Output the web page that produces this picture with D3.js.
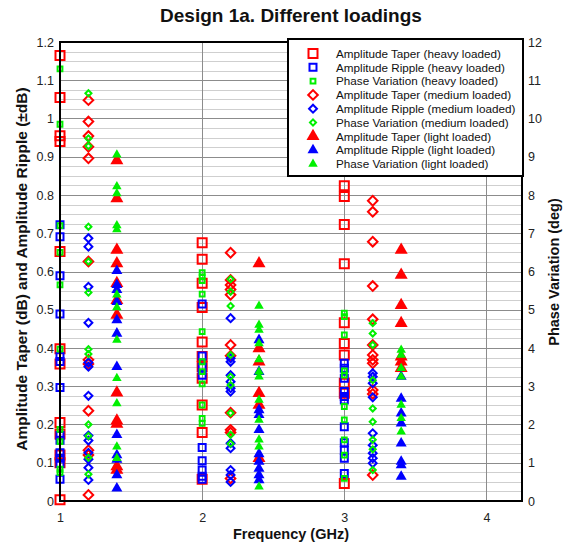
<!DOCTYPE html>
<html>
<head>
<meta charset="utf-8">
<script src="https://cdn.jsdelivr.net/npm/d3@7"></script>
<style>
  html, body { margin: 0; padding: 0; background: #fff; }
  svg { display: block; font-family: "Liberation Sans", Arial, sans-serif; }
</style>
</head>
<body>
<svg id="chart" width="563" height="544"></svg>
<script>
// Measurement frequencies (GHz) for each loading condition
const heavyFreqs  = [1, 2, 3];
const mediumFreqs = [1.2, 2.2, 3.2];
const lightFreqs  = [1.4, 2.4, 3.4];

// Amplitude taper / ripple in dB, phase variation in degrees,
// one inner array per measurement frequency
const taperHeavy = [
  [1.165, 1.055, 0.955, 0.94, 0.652, 0.398, 0.358, 0.205, 0.175, 0.12, 0.10, 0.003],
  [0.675, 0.632, 0.569, 0.506, 0.416, 0.378, 0.351, 0.321, 0.251, 0.179, 0.057],
  [0.824, 0.796, 0.723, 0.62, 0.466, 0.412, 0.382, 0.308, 0.282, 0.046]
];
const rippleHeavy = [
  [0.722, 0.691, 0.589, 0.489, 0.378, 0.365, 0.297, 0.171, 0.159, 0.126, 0.112, 0.098, 0.057],
  [0.515, 0.379, 0.35, 0.329, 0.14, 0.105, 0.081, 0.065, 0.057],
  [0.36, 0.347, 0.321, 0.286, 0.273, 0.264, 0.194, 0.152, 0.133, 0.112, 0.072]
];
const phaseHeavy = [
  [11.3, 9.85, 7.2, 6.5, 5.65, 3.97, 1.87, 1.55, 0.83, 0.74],
  [5.97, 5.86, 5.76, 5.41, 4.43, 3.64, 3.38, 3.06, 2.51, 2.16, 2.03],
  [4.91, 4.82, 4.34, 3.4, 3.29, 2.47, 2.12, 1.6, 1.2, 0.59]
];
const taperMedium = [
  [1.048, 0.992, 0.954, 0.926, 0.896, 0.626, 0.369, 0.358, 0.236, 0.133, 0.12, 0.016],
  [0.649, 0.578, 0.565, 0.553, 0.539, 0.408, 0.38, 0.231, 0.186, 0.179, 0.059],
  [0.785, 0.756, 0.678, 0.562, 0.475, 0.408, 0.382, 0.369, 0.36, 0.29, 0.28, 0.068]
];
const rippleMedium = [
  [0.687, 0.665, 0.56, 0.466, 0.362, 0.351, 0.275, 0.171, 0.158, 0.126, 0.109, 0.087, 0.055],
  [0.478, 0.373, 0.364, 0.329, 0.312, 0.295, 0.286, 0.151, 0.138, 0.081, 0.068, 0.05],
  [0.334, 0.325, 0.308, 0.271, 0.177, 0.146, 0.125, 0.112, 0.099]
];
const phaseMedium = [
  [10.66, 9.48, 9.28, 7.17, 6.26, 5.45, 3.97, 3.84, 2.0, 1.7, 1.13, 0.70],
  [5.8, 5.47, 5.1, 3.82, 3.25, 3.03, 2.3, 1.73, 1.5],
  [4.65, 4.38, 4.08, 3.16, 2.42, 2.07, 1.6, 1.35, 0.81]
];
const taperLight = [
  [0.89, 0.791, 0.656, 0.621, 0.569, 0.525, 0.486, 0.283, 0.21, 0.201, 0.09, 0.081],
  [0.621, 0.399, 0.364, 0.282, 0.251, 0.112],
  [0.656, 0.591, 0.512, 0.465, 0.377, 0.364, 0.347]
];
const rippleLight = [
  [0.602, 0.565, 0.552, 0.521, 0.473, 0.438, 0.351, 0.173, 0.12, 0.108, 0.068, 0.033],
  [0.421, 0.338, 0.238, 0.225, 0.186, 0.123, 0.103, 0.085, 0.068, 0.055],
  [0.325, 0.268, 0.229, 0.203, 0.151, 0.103, 0.094, 0.064]
];
const phaseLight = [
  [9.05, 8.22, 8.04, 7.2, 7.1, 5.39, 5.06, 4.21, 3.21, 2.55, 1.42, 1.12],
  [5.1, 4.6, 4.47, 4.12, 3.7, 3.38, 3.25, 2.64, 2.12, 1.6, 1.42, 0.37],
  [3.95, 3.82, 3.47, 3.25, 2.51, 2.16, 1.81]
];

// Axis tick labels
const xTicks = [1, 2, 3, 4];
const leftTicks = [0, 0.1, 0.2, 0.3, 0.4, 0.5, 0.6, 0.7, 0.8, 0.9, 1, 1.1, 1.2];
const rightTicks = [0, 1, 2, 3, 4, 5, 6, 7, 8, 9, 10, 11, 12];

const RED = "#ff0000", BLUE = "#0000ff", GREEN = "#00f000";

// Series definitions: which axis, marker shape and look
const series = [
  { name: "Amplitude Taper (heavy loaded)",   freqs: heavyFreqs,  values: taperHeavy,   axis: "left",  shape: "square",   size: 9,   color: RED },
  { name: "Amplitude Ripple (heavy loaded)",  freqs: heavyFreqs,  values: rippleHeavy,  axis: "left",  shape: "square",   size: 7,   color: BLUE },
  { name: "Phase Variation (heavy loaded)",   freqs: heavyFreqs,  values: phaseHeavy,   axis: "right", shape: "square",   size: 4.8, color: GREEN },
  { name: "Amplitude Taper (medium loaded)",  freqs: mediumFreqs, values: taperMedium,  axis: "left",  shape: "diamond",  size: 6.8, color: RED },
  { name: "Amplitude Ripple (medium loaded)", freqs: mediumFreqs, values: rippleMedium, axis: "left",  shape: "diamond",  size: 5.6, color: BLUE },
  { name: "Phase Variation (medium loaded)",  freqs: mediumFreqs, values: phaseMedium,  axis: "right", shape: "diamond",  size: 4.3, color: GREEN },
  { name: "Amplitude Taper (light loaded)",   freqs: lightFreqs,  values: taperLight,   axis: "left",  shape: "triangle", size: 13,  color: RED },
  { name: "Amplitude Ripple (light loaded)",  freqs: lightFreqs,  values: rippleLight,  axis: "left",  shape: "triangle", size: 11,  color: BLUE },
  { name: "Phase Variation (light loaded)",   freqs: lightFreqs,  values: phaseLight,   axis: "right", shape: "triangle", size: 9.5, color: GREEN }
];

const svg = d3.select("#chart");
const plot = { left: 60, right: 522, top: 42, bottom: 501 };

const x = d3.scaleLinear().domain([1, 4.25]).range([plot.left, plot.right]);
const yL = d3.scaleLinear().domain([0, 1.2]).range([plot.bottom, plot.top]);
const yR = d3.scaleLinear().domain([0, 12]).range([plot.bottom, plot.top]);

// Marker path generator; size is side length (square/diamond) or edge (triangle)
function markerPath(shape, s) {
  if (shape === "square" || shape === "diamond") return d3.symbol(d3.symbolSquare, s * s)();
  return d3.symbol(d3.symbolTriangle, Math.sqrt(3) / 4 * s * s)();
}
function drawMarker(sel, d) {
  const p = sel.append("path").attr("d", markerPath(d.shape, d.size));
  if (d.shape === "triangle") {
    p.attr("fill", d.color).attr("stroke", "none");
  } else {
    p.attr("fill", "none").attr("stroke", d.color).attr("stroke-width", 2);
  }
  if (d.shape === "diamond") p.attr("transform", "rotate(45)");
  return p;
}

// Grid: minor lines every 0.025 dB, major every 0.1 dB, verticals at whole GHz
const grid = svg.append("g");
grid.selectAll("line.minor")
  .data(d3.range(0.025, 1.2, 0.025).filter(v => Math.abs(v * 10 - Math.round(v * 10)) > 1e-6))
  .join("line")
  .attr("x1", plot.left).attr("x2", plot.right)
  .attr("y1", d => Math.round(yL(d)) + 0.5).attr("y2", d => Math.round(yL(d)) + 0.5)
  .attr("stroke", "#cfcfcf").attr("stroke-width", 1);
grid.selectAll("line.major")
  .data(leftTicks.filter(v => v > 0 && v < 1.2))
  .join("line")
  .attr("x1", plot.left).attr("x2", plot.right)
  .attr("y1", d => Math.round(yL(d)) + 0.5).attr("y2", d => Math.round(yL(d)) + 0.5)
  .attr("stroke", "#8c8c8c").attr("stroke-width", 1);
grid.selectAll("line.vert")
  .data(xTicks.filter(v => v > 1))
  .join("line")
  .attr("x1", d => Math.round(x(d)) + 0.5).attr("x2", d => Math.round(x(d)) + 0.5)
  .attr("y1", plot.top).attr("y2", plot.bottom)
  .attr("stroke", "#8c8c8c").attr("stroke-width", 1);

// Data markers
const marks = svg.append("g");
series.forEach(s => {
  const yScale = s.axis === "left" ? yL : yR;
  s.freqs.forEach((f, i) => {
    s.values[i].forEach(v => {
      const g = marks.append("g").attr("transform", `translate(${x(f)},${yScale(v)})`);
      drawMarker(g, s);
    });
  });
});

// Plot frame
svg.append("rect")
  .attr("x", plot.left).attr("y", plot.top)
  .attr("width", plot.right - plot.left).attr("height", plot.bottom - plot.top)
  .attr("fill", "none").attr("stroke", "#000").attr("stroke-width", 2);

// Axes
const fmt = d => String(+d.toFixed(1));
const leftAxis = svg.append("g").attr("transform", `translate(${plot.left},0)`)
  .call(d3.axisLeft(yL).tickValues(leftTicks).tickFormat(fmt).tickSize(0).tickPadding(6));
const rightAxis = svg.append("g").attr("transform", `translate(${plot.right},0)`)
  .call(d3.axisRight(yR).tickValues(rightTicks).tickFormat(d3.format("d")).tickSize(0).tickPadding(6));
const bottomAxis = svg.append("g").attr("transform", `translate(0,${plot.bottom})`)
  .call(d3.axisBottom(x).tickValues(xTicks).tickFormat(d3.format("d")).tickSize(0).tickPadding(12));
[leftAxis, rightAxis, bottomAxis].forEach(a => {
  a.select(".domain").remove();
  a.selectAll("text").attr("font-size", 12.5).attr("fill", "#222")
    .attr("font-family", "'Liberation Sans', Arial, sans-serif");
});

// Titles
svg.append("text").attr("x", 291).attr("y", 22).attr("text-anchor", "middle")
  .attr("font-size", 19).attr("font-weight", "bold").attr("fill", "#111")
  .text("Design 1a. Different loadings");
svg.append("text").attr("x", 291).attr("y", 539).attr("text-anchor", "middle")
  .attr("font-size", 14.5).attr("font-weight", "bold").attr("fill", "#111")
  .text("Frequency (GHz)");
svg.append("text").attr("transform", "translate(27,269) rotate(-90)").attr("text-anchor", "middle")
  .attr("font-size", 15.5).attr("font-weight", "bold").attr("fill", "#111")
  .text("Amplitude Taper (dB) and Amplitude Ripple (\u00b1dB)");
svg.append("text").attr("transform", "translate(559,272) rotate(-90)").attr("text-anchor", "middle")
  .attr("font-size", 14.5).attr("font-weight", "bold").attr("fill", "#111")
  .text("Phase Variation (deg)");

// Legend
const legend = svg.append("g");
legend.append("rect").attr("x", 288).attr("y", 39).attr("width", 235).attr("height", 137)
  .attr("fill", "#fff").attr("stroke", "#000").attr("stroke-width", 2);
series.forEach((s, i) => {
  const row = legend.append("g").attr("transform", `translate(0,${53.5 + i * 13.8})`);
  drawMarker(row.append("g").attr("transform", "translate(313,0)"), s);
  row.append("text").attr("x", 336).attr("y", 4.2).attr("font-size", 11.7).attr("fill", "#111")
    .text(s.name);
});
</script>
</body>
</html>
